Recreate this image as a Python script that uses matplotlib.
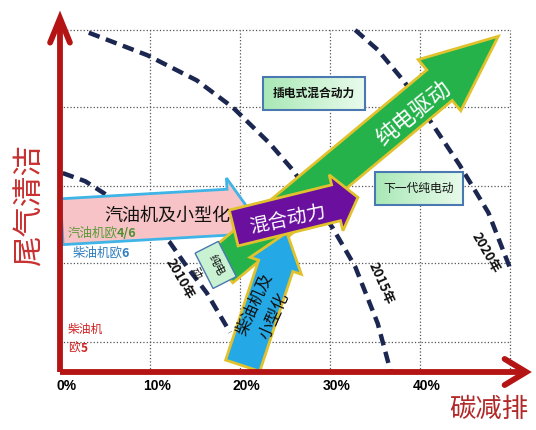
import numpy as np
import matplotlib.pyplot as plt
from matplotlib.patches import FancyArrow, Rectangle
from matplotlib.colors import LinearSegmentedColormap

plt.rcParams['font.family'] = ['Noto Sans CJK SC', 'DejaVu Sans']

# grid / tick values (x = 碳减排 %, y = 尾气清洁 level)
x_grid = [10, 20, 30, 40, 50]
x_tick_vals = [0, 10, 20, 30, 40]
x_tick_labels = ['0%', '10%', '20%', '30%', '40%']
y_grid = [3.3, 12.1, 20.7, 29.4, 38.0]

# dashed year curves
curve_2010_x = [0.3, 2.8, 5.6, 8.9, 12.2, 14.1, 16.3, 18.9]
curve_2010_y = [22.1, 21.2, 19.4, 17.4, 14.4, 11.7, 8.8, 4.4]
curve_2015_x = [3.2, 9.7, 15.2, 19.2, 23.3, 25.9, 30.3, 32.8, 35.3, 36.7]
curve_2015_y = [37.7, 35.2, 32.4, 29.4, 25.4, 22.4, 16.0, 11.7, 5.4, 0.2]
curve_2020_x = [32.8, 35.3, 38.3, 41.2, 44.4, 47.6, 50.1]
curve_2020_y = [38.0, 35.8, 32.2, 27.8, 23.0, 17.7, 11.3]

year_labels = ['2010年', '2015年', '2020年']
year_label_x = [13.3, 35.7, 47.3]
year_label_y = [10.4, 9.9, 13.2]
year_label_rot = [-60, -66, -60]

# technology arrows: tail point, direction vector
petrol_tail, petrol_vec = (0.2, 16.7), (20.9, 1.2)
green_tail, green_vec = (17.8, 11.6), (30.9, 25.7)
diesel_tail, diesel_vec = (20.3, 0.7), (4.9, 14.8)
hybrid_tail, hybrid_vec = (19.3, 16.0), (13.8, 3.4)

# text boxes: (x0, y0, x1, y1)
plugin_box = (22.6, 29.1, 33.9, 32.8)
nextgen_box = (35.0, 18.6, 44.8, 22.2)
ev_box_center = (17.3, 11.9)

fig = plt.figure(figsize=(5.36, 4.30), dpi=100)
ax = fig.add_axes([60 / 536, 58 / 430, 450 / 536, 342 / 430])
ax.set_xlim(0, 50)
ax.set_ylim(0, 38)
ax.axis('off')

# dotted grid
for gx in x_grid:
    ax.plot([gx, gx], [0, 38], ls=':', lw=0.9, color='#555555', zorder=1, clip_on=False)
for gy in y_grid:
    ax.plot([0, 50], [gy, gy], ls=':', lw=0.9, color='#555555', zorder=1, clip_on=False)

# dashed year curves
for cx, cy in [(curve_2010_x, curve_2010_y), (curve_2015_x, curve_2015_y), (curve_2020_x, curve_2020_y)]:
    ax.plot(cx, cy, color='#1b2750', lw=3.2, ls=(0, (2.6, 1.5)), zorder=2, clip_on=False)
for lab, lx, ly, rot in zip(year_labels, year_label_x, year_label_y, year_label_rot):
    ax.text(lx, ly, lab, rotation=rot, ha='center', va='center', fontsize=9.5,
            fontweight='bold', color='#111111', zorder=2.5, rotation_mode='anchor')


def block_arrow(tail, vec, width, head_w, head_l, face, edge, z):
    ax.add_patch(FancyArrow(tail[0], tail[1], vec[0], vec[1], width=width,
                            head_width=head_w, head_length=head_l,
                            length_includes_head=True, fc=face, ec=edge,
                            lw=2, zorder=z, joinstyle='miter'))


block_arrow(petrol_tail, petrol_vec, 5.1, 7.6, 2.4, '#f7c3c6', '#3fb4e6', 3)
block_arrow(green_tail, green_vec, 4.4, 7.4, 8.5, '#25b24b', '#e2c22c', 4)
block_arrow(diesel_tail, diesel_vec, 4.0, 6.0, 3.9, '#24a9e6', '#e2c22c', 6)
block_arrow(hybrid_tail, hybrid_vec, 4.1, 6.4, 2.5, '#6a0f9e', '#e2c22c', 7)

# small rotated 纯电动 box
ax.add_patch(Rectangle((ev_box_center[0] - 2.2, ev_box_center[1] - 1.45), 4.4, 2.9,
                       angle=-63, rotation_point='center', fc='#c8f2d2',
                       ec='#4a78b0', lw=1, zorder=5))
ax.text(ev_box_center[0], ev_box_center[1], '纯电', rotation=-63,
        ha='center', va='center', fontsize=8, color='#111111', zorder=5.5,
        rotation_mode='anchor')
ax.text(ev_box_center[0] - 2.2, ev_box_center[1] - 0.9, '动', rotation=-63,
        ha='center', va='center', fontsize=8, color='#111111', zorder=5.5,
        rotation_mode='anchor')

# arrow captions
ax.text(11.9, 17.3, '汽油机及小型化', ha='center', va='center', fontsize=13,
        color='#111111', zorder=8)
ax.text(0.8, 15.4, '汽油机欧', ha='left', va='center', fontsize=9,
        color='#5a9a3a', zorder=8)
ax.text(6.3, 15.4, '4/6', ha='left', va='center', fontsize=9, fontweight='bold',
        color='#4f8f30', zorder=8)
ax.text(1.4, 13.2, '柴油机欧', ha='left', va='center', fontsize=9,
        color='#2f7fbf', zorder=8)
ax.text(6.8, 13.2, '6', ha='left', va='center', fontsize=9, fontweight='bold',
        color='#2f7fbf', zorder=8)
ax.text(0.9, 4.7, '柴油机', ha='left', va='center', fontsize=8.5,
        color='#d02020', zorder=8)
ax.text(0.9, 2.6, '欧', ha='left', va='center', fontsize=8.5,
        color='#d02020', zorder=8)
ax.text(2.3, 2.6, '5', ha='left', va='center', fontsize=8.5, fontweight='bold',
        color='#d02020', zorder=8)
ax.text(25.3, 16.9, '混合动力', rotation=12, ha='center', va='center',
        fontsize=14, color='white', zorder=8, rotation_mode='anchor')
ax.text(39.2, 28.8, '纯电驱动', rotation=39, ha='center', va='center',
        fontsize=16, color='white', zorder=8, rotation_mode='anchor')
ax.text(21.6, 7.55, '柴油机及', rotation=66, ha='center', va='center',
        fontsize=12, color='#111111', zorder=8, rotation_mode='anchor')
ax.text(23.8, 6.2, '小型化', rotation=66, ha='center', va='center',
        fontsize=12, color='#111111', zorder=8, rotation_mode='anchor')

# labelled boxes with a light green gradient
box_cmap = LinearSegmentedColormap.from_list('boxgreen', ['#a9e8b6', '#e9fbec'])
grad = np.linspace(0, 1, 64).reshape(1, -1)
for (x0, y0, x1, y1), lab, fw in [(plugin_box, '插电式混合动力', 'bold'),
                                  (nextgen_box, '下一代纯电动', 'normal')]:
    rect = Rectangle((x0, y0), x1 - x0, y1 - y0, fc='none', ec='#4a78b0',
                     lw=1.5, zorder=5.2)
    ax.add_patch(rect)
    im = ax.imshow(grad, cmap=box_cmap, extent=(x0, x1, y0, y1), aspect='auto',
                   zorder=5, interpolation='bilinear')
    im.set_clip_path(rect)
    ax.text((x0 + x1) / 2, (y0 + y1) / 2, lab, ha='center', va='center',
            fontsize=8.5, fontweight=fw, color='#111111', zorder=6)
ax.set_xlim(0, 50)
ax.set_ylim(0, 38)

# red axes with arrow heads
red = '#b41414'
ax.plot([0, 0], [0, 38.8], color=red, lw=4.2, zorder=9, clip_on=False, solid_capstyle='butt')
ax.plot([-1.1, 0, 1.1], [36.6, 39.3, 36.6], color=red, lw=4.2, zorder=9, clip_on=False,
        solid_joinstyle='miter', solid_capstyle='round')
ax.plot([0, 51.3], [0, 0], color=red, lw=4.2, zorder=9, clip_on=False, solid_capstyle='butt')
ax.plot([49.4, 51.8, 49.4], [1.45, 0, -1.45], color=red, lw=4.2, zorder=9, clip_on=False,
        solid_joinstyle='miter', solid_capstyle='round')

for v, lab in zip(x_tick_vals, x_tick_labels):
    ax.text(v + 0.75, -1.6, lab, ha='center', va='center', fontsize=10,
            fontweight='bold', family=['Liberation Sans', 'DejaVu Sans'],
            clip_on=False)

ax.text(-3.3, 18.6, '尾气清洁', rotation=90, ha='center', va='center', fontsize=22,
        color='#c83030', clip_on=False)
ax.text(47.6, -4.2, '碳减排', ha='center', va='center', fontsize=19,
        color='#b02828', clip_on=False)

fig.savefig('out.png', dpi=100)
